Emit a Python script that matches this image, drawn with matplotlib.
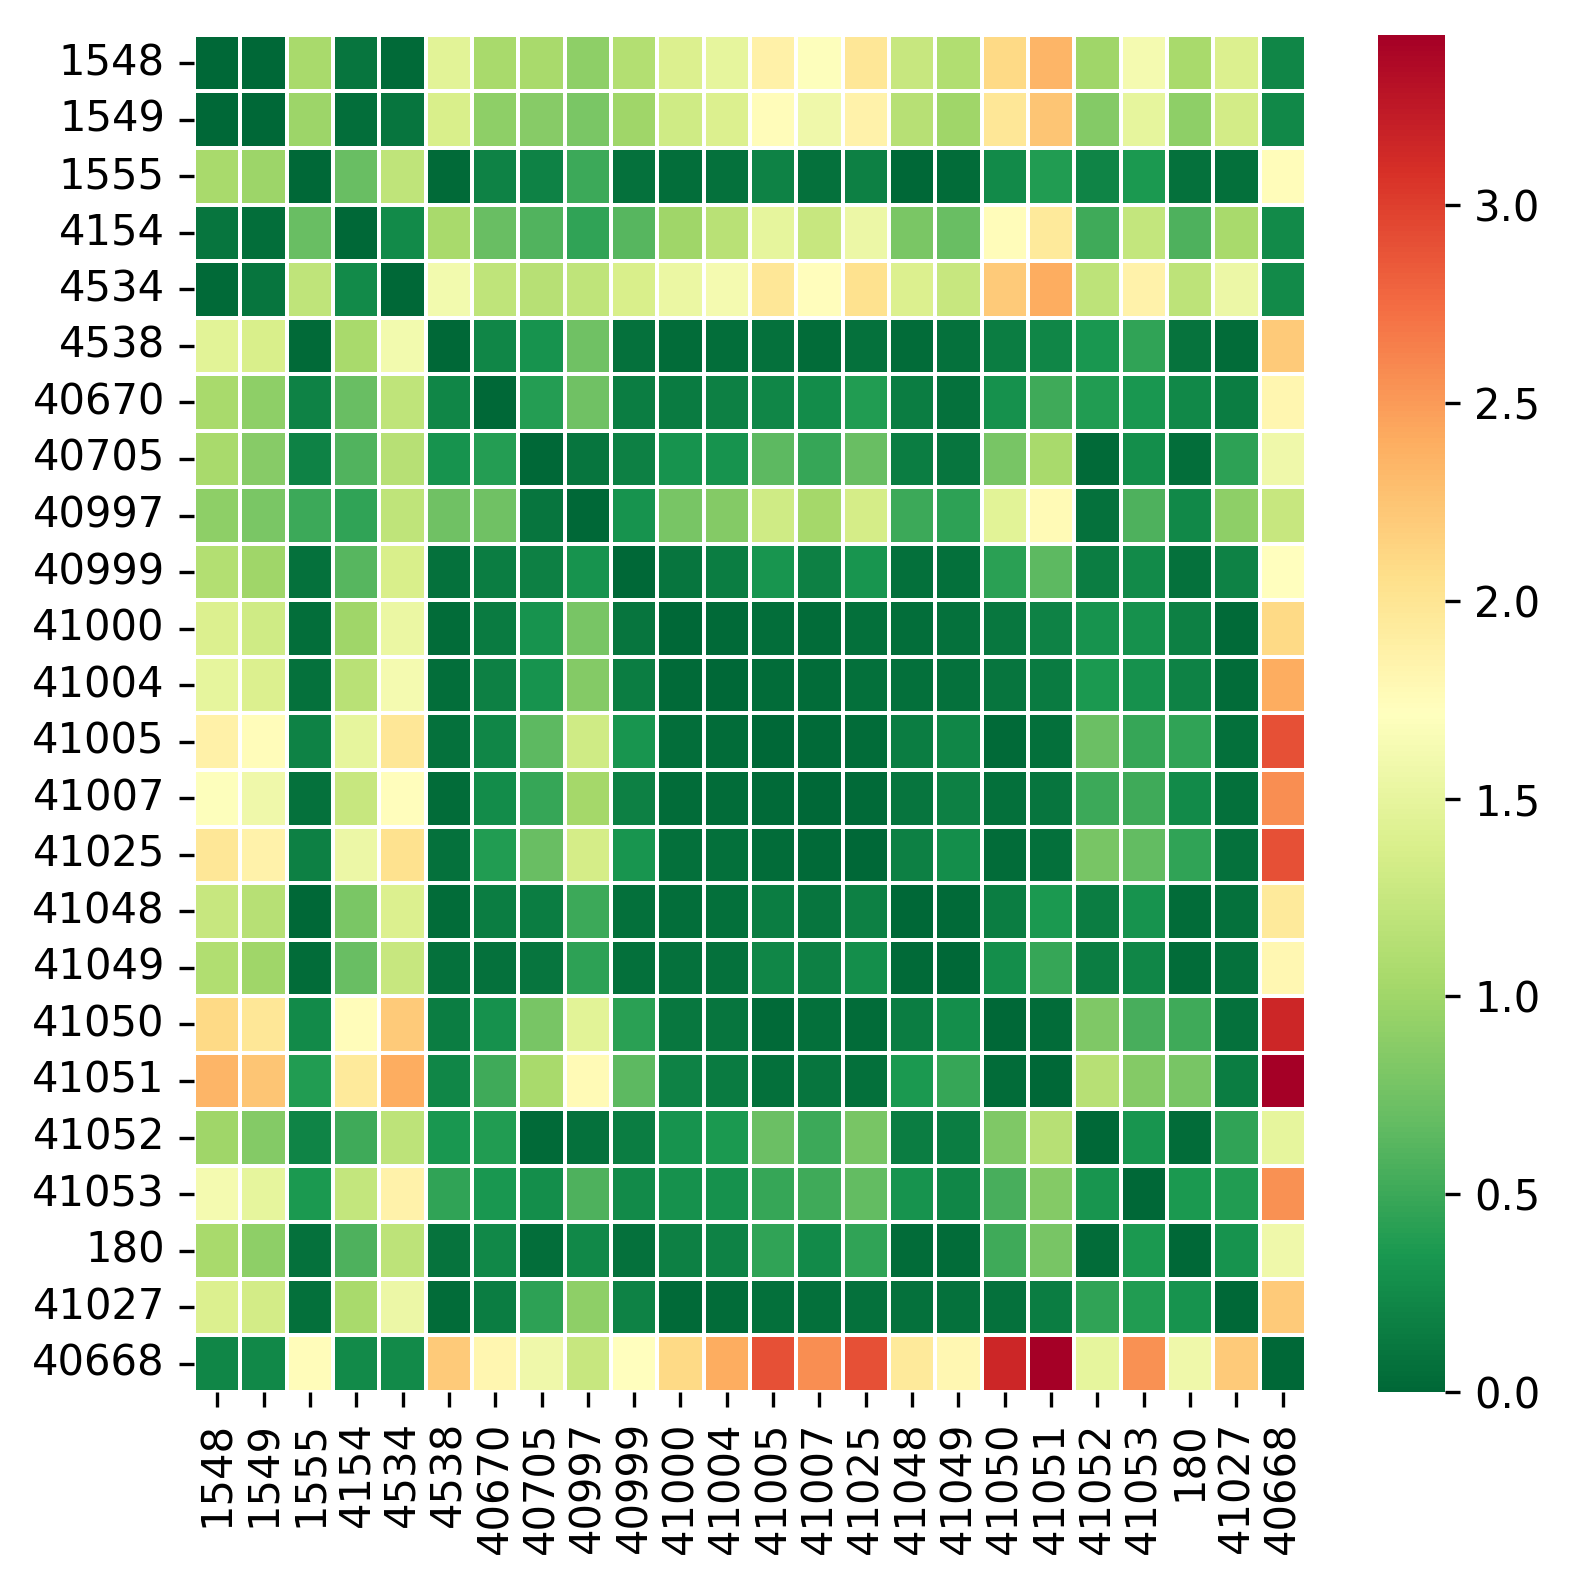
import numpy as np
import matplotlib
matplotlib.use("Agg")
import matplotlib.pyplot as plt
import seaborn as sns

# station ids (same order on both axes)
labels = ["1548", "1549", "1555", "4154", "4534", "4538", "40670", "40705",
          "40997", "40999", "41000", "41004", "41005", "41007", "41025",
          "41048", "41049", "41050", "41051", "41052", "41053", "180",
          "41027", "40668"]

# upper triangle of the distance matrix, row i holds values for columns i+1..end
r_1548 = [0.0, 1.05, 0.1, 0.02, 1.45, 1.05, 1.05, 0.9, 1.12, 1.4, 1.5, 1.87,
          1.7, 1.97, 1.25, 1.1, 2.1, 2.35, 1.0, 1.62, 1.05, 1.4, 0.22]
r_1549 = [0.98, 0.05, 0.1, 1.38, 0.9, 0.87, 0.8, 1.0, 1.3, 1.4, 1.75, 1.58,
          1.85, 1.15, 1.0, 1.98, 2.25, 0.85, 1.5, 0.9, 1.33, 0.24]
r_1555 = [0.7, 1.2, 0.02, 0.2, 0.2, 0.5, 0.07, 0.05, 0.08, 0.2, 0.08, 0.18,
          0.0, 0.03, 0.25, 0.38, 0.21, 0.35, 0.07, 0.06, 1.75]
r_4154 = [0.25, 1.05, 0.7, 0.6, 0.45, 0.62, 1.0, 1.16, 1.5, 1.25, 1.55, 0.8,
          0.7, 1.75, 1.95, 0.52, 1.22, 0.58, 1.05, 0.25]
r_4534 = [1.6, 1.2, 1.15, 1.2, 1.38, 1.54, 1.61, 1.97, 1.73, 2.03, 1.4, 1.25,
          2.2, 2.4, 1.18, 1.85, 1.18, 1.55, 0.25]
r_4538 = [0.22, 0.32, 0.75, 0.08, 0.04, 0.05, 0.08, 0.03, 0.08, 0.03, 0.08,
          0.15, 0.22, 0.34, 0.45, 0.09, 0.04, 2.2]
r_40670 = [0.4, 0.75, 0.16, 0.14, 0.18, 0.22, 0.26, 0.38, 0.15, 0.08, 0.3,
           0.52, 0.38, 0.34, 0.24, 0.15, 1.82]
r_40705 = [0.1, 0.18, 0.32, 0.32, 0.65, 0.48, 0.7, 0.15, 0.1, 0.78, 1.05,
           0.02, 0.28, 0.05, 0.43, 1.58]
r_40997 = [0.32, 0.79, 0.85, 1.3, 1.02, 1.35, 0.5, 0.43, 1.45, 1.77, 0.08,
           0.58, 0.24, 0.9, 1.25]
r_40999 = [0.1, 0.15, 0.33, 0.18, 0.33, 0.06, 0.06, 0.42, 0.65, 0.15, 0.25,
           0.07, 0.2, 1.72]
r_41000 = [0.02, 0.05, 0.03, 0.06, 0.05, 0.07, 0.12, 0.2, 0.32, 0.3, 0.18,
           0.02, 2.1]
r_41004 = [0.04, 0.03, 0.06, 0.06, 0.08, 0.1, 0.14, 0.35, 0.3, 0.2, 0.03, 2.4]
r_41005 = [0.02, 0.03, 0.15, 0.22, 0.02, 0.06, 0.72, 0.48, 0.45, 0.06, 2.9]
r_41007 = [0.02, 0.1, 0.18, 0.06, 0.1, 0.5, 0.52, 0.25, 0.06, 2.57]
r_41025 = [0.18, 0.28, 0.03, 0.06, 0.78, 0.68, 0.45, 0.07, 2.9]
r_41048 = [0.02, 0.15, 0.35, 0.15, 0.32, 0.03, 0.07, 1.95]
r_41049 = [0.28, 0.48, 0.15, 0.22, 0.03, 0.08, 1.8]
r_41050 = [0.03, 0.82, 0.55, 0.52, 0.08, 3.15]
r_41051 = [1.15, 0.85, 0.78, 0.15, 3.43]
r_41052 = [0.33, 0.03, 0.45, 1.5]
r_41053 = [0.35, 0.38, 2.55]
r_180 = [0.32, 1.57]
r_41027 = [2.2]

upper = [r_1548, r_1549, r_1555, r_4154, r_4534, r_4538, r_40670, r_40705,
         r_40997, r_40999, r_41000, r_41004, r_41005, r_41007, r_41025,
         r_41048, r_41049, r_41050, r_41051, r_41052, r_41053, r_180, r_41027]

n = len(labels)
dist = np.zeros((n, n))
for i, row in enumerate(upper):
    dist[i, i + 1:] = row
dist = dist + dist.T

fig = plt.figure(figsize=(1571 / 300, 1580 / 300), dpi=300)
ax = fig.add_axes([0.1235, 0.1190, 0.7078, 0.8589])
cax = fig.add_axes([0.8772, 0.1190, 0.0426, 0.8589])

sns.heatmap(dist, ax=ax, cbar_ax=cax, cmap="RdYlGn_r",
            linewidths=0.9, linecolor="white",
            xticklabels=labels, yticklabels=labels)

ax.tick_params(axis="x", labelrotation=90, labelsize=10)
ax.tick_params(axis="y", labelrotation=0, labelsize=10)
cax.tick_params(labelsize=10)

fig.savefig("out.png", dpi=300)
